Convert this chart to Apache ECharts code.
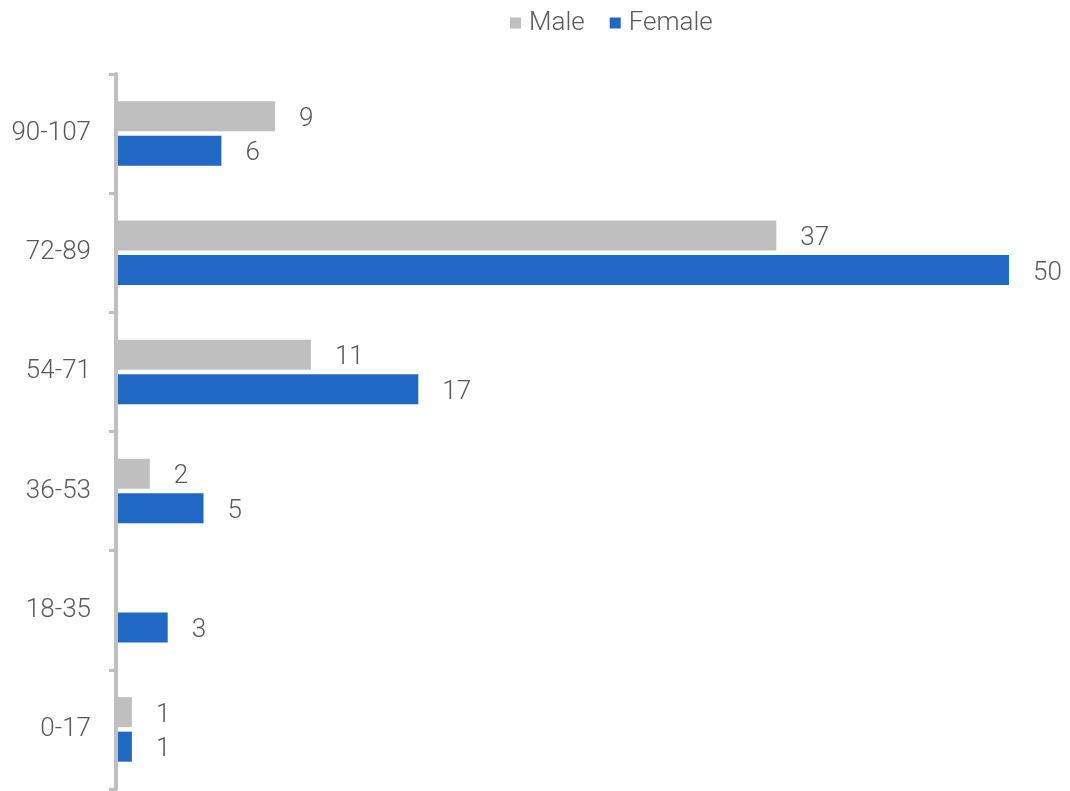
<!DOCTYPE html>
<html><head><meta charset="utf-8">
<script src="https://cdn.jsdelivr.net/npm/echarts@6/dist/echarts.min.js"></script>
<style>html,body{margin:0;padding:0;background:#fff}#c{width:1070px;height:791px}</style>
</head><body><div id="c"></div>
<script>
const categories = ['0-17','18-35','36-53','54-71','72-89','90-107'];
const maleValues = [1, null, 2, 11, 37, 9];
const femaleValues = [1, 3, 5, 17, 50, 6];
const seriesNames = ['Male','Female'];

const chart = echarts.init(document.getElementById('c'));
const font = 'Roboto';
const labelStyle = {show:true, position:'right', distance:24, offset:[0,3], fontFamily:font, fontSize:26, fontWeight:300, color:'#595959'};
chart.setOption({
  animation:false,
  legend:{top:5, left:505, itemWidth:11, itemHeight:11, itemGap:25, icon:'rect',
    textStyle:{fontFamily:font, fontSize:26, fontWeight:300, color:'#595959', padding:[0,0,0,3]}, data:seriesNames},
  grid:{left:114, right:61, top:74, bottom:2, containLabel:false},
  xAxis:{type:'value', min:0, max:50, show:false},
  yAxis:{type:'category', data:categories, offset:-2, z:5,
    axisLine:{show:true, lineStyle:{color:'#bfbfbf', width:4}},
    axisTick:{show:true, length:7, lineStyle:{color:'#bfbfbf', width:3}},
    axisLabel:{fontFamily:font, fontSize:26, fontWeight:300, color:'#595959', margin:25, padding:[3,0,0,0]},
    splitLine:{show:false}},
  series:[
    {name:seriesNames[0], type:'bar', data:maleValues, barWidth:30, barGap:'15%',
      itemStyle:{color:'#bfbfbf'}, label:labelStyle},
    {name:seriesNames[1], type:'bar', data:femaleValues, barWidth:30, barGap:'15%',
      itemStyle:{color:'#2167c4'}, label:labelStyle}
  ]
});
</script></body></html>
